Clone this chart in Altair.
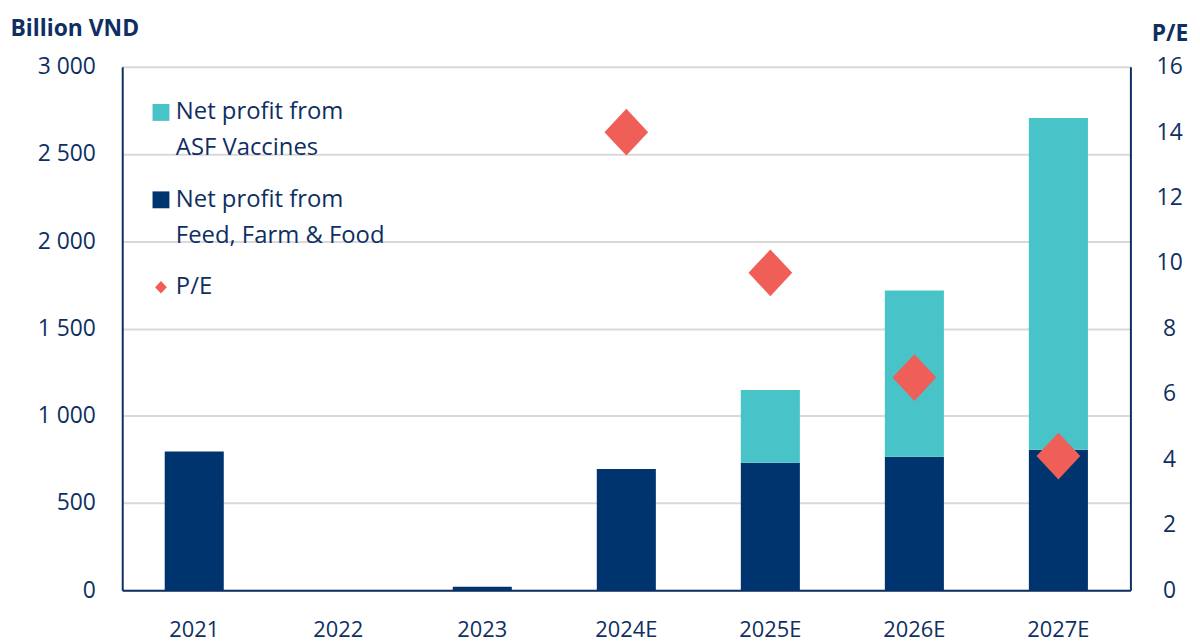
import altair as alt
import pandas as pd

years = ["2021", "2022", "2023", "2024E", "2025E", "2026E", "2027E"]
feed_profit = [795, 0, 20, 695, 730, 765, 805]
asf_profit = [0, 0, 0, 0, 418, 953, 1901]
pe_ratio = [None, None, None, 14.0, 9.7, 6.5, 4.1]

S_ASF = "Net profit from|ASF Vaccines"
S_FEED = "Net profit from|Feed, Farm & Food"
S_PE = "P/E"
series_order = [S_ASF, S_FEED, S_PE]
series_colors = ["#48C3C8", "#00346E", "#F05E58"]

NAVY = "#0F2F63"
FONT = "Open Sans"
DIAMOND = "M0,-0.75L0.7,0L0,0.75L-0.7,0Z"

bar_rows = []
for y, f, a in zip(years, feed_profit, asf_profit):
    bar_rows.append({"year": y, "series": S_FEED, "value": f, "stk": 0})
    bar_rows.append({"year": y, "series": S_ASF, "value": a, "stk": 1})
bars_df = pd.DataFrame(bar_rows)
pe_df = pd.DataFrame(
    [{"year": y, "series": S_PE, "pe": p} for y, p in zip(years, pe_ratio) if p is not None]
)

legend = alt.Legend(
    title=None,
    orient="none",
    legendX=27,
    legendY=34,
    labelExpr="split(datum.label, '|')",
    labelFont=FONT,
    labelFontSize=24,
    labelColor=NAVY,
    labelLimit=600,
    labelOffset=3,
    symbolSize=289,
    symbolStrokeWidth=0,
    rowPadding=28,
    padding=0,
)

x_enc = alt.X(
    "year:N",
    sort=years,
    scale=alt.Scale(paddingInner=0.59, paddingOuter=0.295),
    axis=alt.Axis(
        title=None,
        labelAngle=0,
        ticks=False,
        domainColor=NAVY,
        domainWidth=2,
        labelPadding=30,
        labelFont=FONT,
        labelFontSize=22,
        labelColor=NAVY,
        grid=False,
    ),
)

color_enc = alt.Color(
    "series:N",
    scale=alt.Scale(domain=series_order, range=series_colors),
    legend=legend,
)

bars = alt.Chart(bars_df).mark_bar(stroke=None).encode(
    x=x_enc,
    y=alt.Y(
        "value:Q",
        stack="zero",
        scale=alt.Scale(domain=[0, 3000], nice=False),
        axis=alt.Axis(
            values=[0, 500, 1000, 1500, 2000, 2500, 3000],
            title="Billion VND",
            titleAngle=0,
            titleAlign="left",
            titleBaseline="middle",
            titleX=-113,
            titleY=-38,
            titleFont=FONT,
            titleFontWeight="bold",
            titleFontSize=23,
            titleColor=NAVY,
            labelExpr="replace(format(datum.value, ','), ',', ' ')",
            labelFont=FONT,
            labelFontSize=23,
            labelColor=NAVY,
            ticks=False,
            labelPadding=27,
            grid=True,
            gridColor="#D9D9D9",
            gridWidth=2,
            domainColor=NAVY,
            domainWidth=2,
        ),
    ),
    color=color_enc,
    order=alt.Order("stk:Q"),
)

points = alt.Chart(pe_df).mark_point(filled=True, size=3950, opacity=1).encode(
    x=x_enc,
    y=alt.Y(
        "pe:Q",
        scale=alt.Scale(domain=[0, 16], nice=False),
        axis=alt.Axis(
            orient="right",
            values=list(range(0, 17, 2)),
            title="P/E",
            titleAngle=0,
            titleAlign="left",
            titleBaseline="middle",
            titleX=21,
            titleY=-33,
            titleFont=FONT,
            titleFontWeight="bold",
            titleFontSize=23,
            titleColor=NAVY,
            labelFont=FONT,
            labelFontSize=23,
            labelColor=NAVY,
            labelAlign="center",
            ticks=False,
            labelPadding=39,
            grid=False,
            domainColor=NAVY,
            domainWidth=2,
        ),
    ),
    color=color_enc,
    shape=alt.Shape(
        "series:N",
        scale=alt.Scale(domain=series_order, range=["square", "square", DIAMOND]),
        legend=legend,
    ),
)

chart = (
    alt.layer(bars, points)
    .resolve_scale(y="independent")
    .properties(
        width=1015,
        height=527,
        autosize=alt.AutoSizeParams(type="none"),
        padding={"left": 115, "top": 57, "right": 62, "bottom": 49},
    )
    .configure(style={"guide-label": {"lineHeight": 36}})
    .configure_view(stroke=None)
)

chart.save("out.html", embed_options={"renderer": "svg", "actions": False})
